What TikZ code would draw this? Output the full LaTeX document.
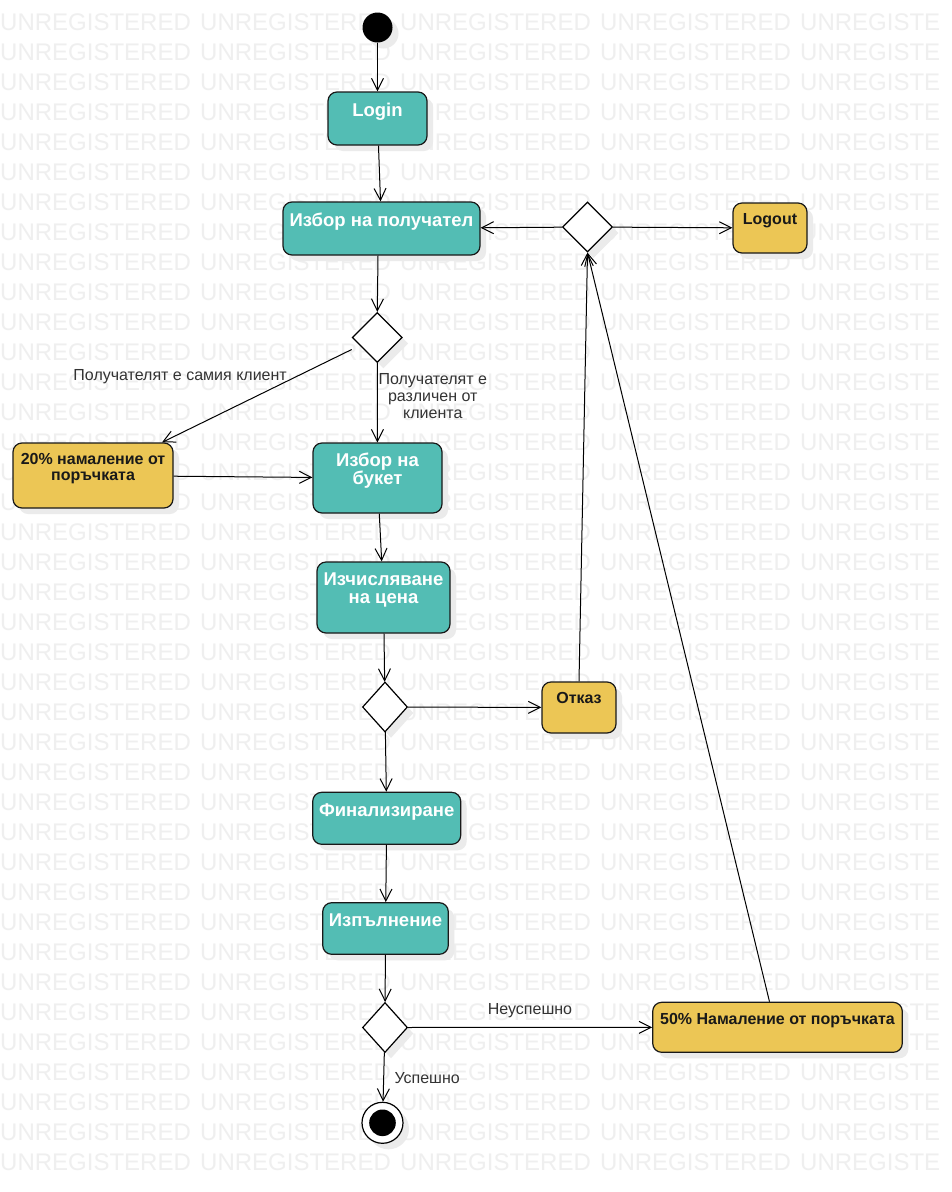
\documentclass[tikz,border=0pt]{standalone}
\usepackage{fontspec}
\setmainfont{Liberation Sans}
\usetikzlibrary{shapes.geometric,arrows.meta,shadows}
\definecolor{teal1}{HTML}{53BDB4}
\definecolor{yel1}{HTML}{ECC655}
\definecolor{wmc}{HTML}{EFEFEF}
\definecolor{shd}{HTML}{EBEBEB}
\definecolor{lbl}{HTML}{333333}
\newcommand\bxt[4]{\parbox[c][#2pt][t]{#1pt}{\lineskiplimit=-100pt\centering\rule{0pt}{#3pt}#4}}
\newcommand\tline[1]{\makebox[0pt]{#1}}
\tikzset{
  shdw/.style={drop shadow={shadow xshift=6pt,shadow yshift=-6pt,fill=shd,opacity=1}},
  act/.style={rounded corners=9pt, draw=black!90, line width=1.2pt, fill=teal1, inner sep=0pt,
    text=white, font=\fontsize{18.5}{18}\selectfont\bfseries, shdw},
  note/.style={act, fill=yel1, text=black!90, font=\fontsize{16}{15.7}\selectfont\bfseries},
  dec/.style={diamond, draw=black, line width=1.2pt, fill=white, inner sep=0pt, shdw},
  arr/.style={draw=black, line width=1pt, -{Straight Barb[length=12pt,width=12pt]}},
  lab/.style={font=\fontsize{16}{16.7}\selectfont, text=lbl, inner sep=0pt},
  wmk/.style={font=\fontsize{24}{24}\selectfont, text=wmc, inner sep=0pt, anchor=base west}
}
\begin{document}
\begin{tikzpicture}[x=1pt,y=-1pt]
\useasboundingbox (0,0) rectangle (951,1192);
\fill[white] (0,0) rectangle (951,1192);
\begin{scope}
\clip (0,0) rectangle (951,1192);
\foreach \r in {1,...,39}{
  \foreach \c in {0,...,3}{
    \node[wmk] (wm-\c-\r) at (200*\c,30*\r) {UNREGISTERED};
  }
  \node[wmk] (wm-4-\r) at (800,30*\r) {UNREGISTE};
}
\end{scope}

% nodes
\node[circle, fill=black, minimum size=30pt, inner sep=0pt, shdw] (start) at (377.5,27.5) {};
\node[act] (login) at (377.5,118.5) {\bxt{99}{53}{24}{\tline{Login}}};
\node[act] (recipient) at (381.5,228.5) {\bxt{197}{53}{24}{\tline{Избор на получател}}};
\node[dec, minimum width=50pt, minimum height=50pt] (dec1) at (587.5,227) {};
\node[note] (logout) at (770,228) {\bxt{74}{50}{21.5}{\tline{Logout}}};
\node[dec, minimum width=50pt, minimum height=50pt] (dec2) at (377.3,337.5) {};
\node[note] (disc20) at (93,475.5) {\bxt{160}{65}{21.3}{\tline{20\% намаление от}\\\tline{поръчката}}};
\node[act] (bouquet) at (377.5,478) {\bxt{129}{70}{23.7}{\tline{Избор на}\\\tline{букет}}};
\node[act] (calc) at (383.5,597.5) {\bxt{133}{71}{23.7}{\tline{Изчисляване}\\\tline{на цена}}};
\node[dec, minimum width=45pt, minimum height=50pt] (dec3) at (385,707) {};
\node[note] (refuse) at (579,707.5) {\bxt{74}{51}{21}{\tline{Отказ}}};
\node[act] (final) at (386.7,818.3) {\bxt{148}{52}{24}{\tline{Финализиране}}};
\node[act] (exec) at (385.5,928.5) {\bxt{125.6}{51.6}{23.5}{\tline{Изпълнение}}};
\node[dec, minimum width=45pt, minimum height=50pt] (dec4) at (385,1027.5) {};
\node[note] (disc50) at (777.5,1027.3) {\bxt{249.6}{50}{22}{\tline{50\% Намаление от поръчката}}};
\node[circle, draw=black, line width=1.2pt, fill=white, minimum size=41pt, inner sep=0pt, shdw,
  path picture={\fill[black] (path picture bounding box.center) circle (13.3pt);}] (end) at (382.5,1122.8) {};

% labels
\node[lab, anchor=base east] (l1) at (287,380) {Получателят е самия клиент};
\node[lab, anchor=north, align=center] (l2) at (432.8,373.5) {Получателят е\\различен от\\клиента};
\node[lab, anchor=base] (l3) at (530,1014) {Неуспешно};
\node[lab, anchor=base west] (l4) at (394.3,1083.3) {Успешно};

% connectors
\draw[arr] (start) -- (login);
\draw[arr] (login) -- (recipient);
\draw[arr] ([xshift=-3.5pt]recipient.south) -- (dec2.north);
\draw[arr] (dec2) -- (bouquet);
\draw[arr] ([yshift=-12pt]dec2.west) -- ([xshift=69pt]disc20.north);
\draw[arr] (disc20) -- (bouquet);
\draw[arr] (bouquet) -- (calc);
\draw[arr] (calc) -- (dec3);
\draw[arr] (dec3) -- (refuse);
\draw[arr] (dec3) -- (final);
\draw[arr] (final) -- (exec);
\draw[arr] (exec) -- (dec4);
\draw[arr] (dec4) -- (disc50);
\draw[arr] (dec4) -- (end);
\draw[arr] (refuse.north) -- (dec1.south);
\draw[arr] ([xshift=-8pt]disc50.north) -- (dec1.south);
\draw[arr] (dec1) -- (recipient);
\draw[arr] (dec1) -- (logout);
\end{tikzpicture}
\end{document}
